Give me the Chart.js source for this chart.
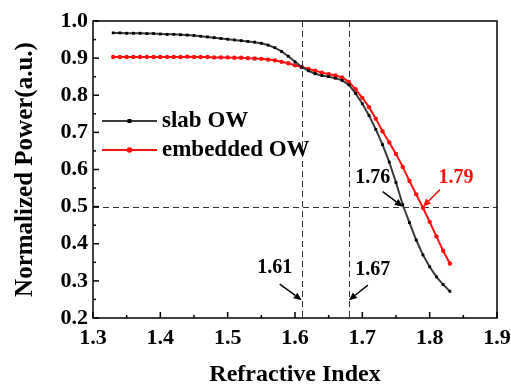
<!DOCTYPE html>
<html>
<head>
<meta charset="utf-8">
<script src="https://cdn.jsdelivr.net/npm/chart.js@4/dist/chart.umd.min.js"></script>
<style>
  html, body { margin: 0; padding: 0; background: #fff; }
  #wrap { width: 511px; height: 387px; }
</style>
</head>
<body>
<div id="wrap"><canvas id="c" width="511" height="387"></canvas></div>
<script>
// ---- data ----
const refractiveIndex = [1.33,1.34,1.35,1.36,1.37,1.38,1.39,1.40,1.41,1.42,1.43,1.44,1.45,1.46,1.47,1.48,1.49,1.50,1.51,1.52,1.53,1.54,1.55,1.56,1.57,1.58,1.59,1.60,1.61,1.62,1.63,1.64,1.65,1.66,1.67,1.68,1.69,1.70,1.71,1.72,1.73,1.74,1.75,1.76,1.77,1.78,1.79,1.80,1.81,1.82,1.83];
const slabOW = [0.968,0.968,0.967,0.967,0.967,0.966,0.966,0.965,0.964,0.964,0.963,0.962,0.961,0.959,0.957,0.955,0.953,0.951,0.949,0.947,0.945,0.943,0.940,0.935,0.928,0.918,0.905,0.890,0.876,0.866,0.858,0.853,0.850,0.846,0.840,0.828,0.805,0.777,0.745,0.708,0.667,0.620,0.565,0.505,0.457,0.410,0.370,0.338,0.311,0.290,0.272];
const embeddedOW = [0.903,0.903,0.903,0.903,0.903,0.903,0.903,0.903,0.903,0.903,0.903,0.904,0.903,0.903,0.903,0.902,0.902,0.902,0.901,0.901,0.900,0.899,0.898,0.896,0.894,0.890,0.886,0.881,0.876,0.871,0.866,0.861,0.857,0.853,0.848,0.836,0.816,0.793,0.768,0.737,0.703,0.673,0.642,0.607,0.569,0.533,0.497,0.459,0.420,0.381,0.347];
const seriesNames = ['slab OW', 'embedded OW'];
const xTickValues = [1.3,1.4,1.5,1.6,1.7,1.8,1.9];
const yTickValues = [0.2,0.3,0.4,0.5,0.6,0.7,0.8,0.9,1.0];
const vLineValues = [1.61, 1.68];
const hLineValues = [0.5];
const annotationTexts = ['1.61', '1.67', '1.76', '1.79'];
const annotationX = [1.61, 1.68, 1.76, 1.79];
const annotationY = [0.248, 0.248, 0.5, 0.5];

const FONT = '"Liberation Serif", "Times New Roman", serif';
const BLACK_LINE = '#3a3a3a';
const RED = '#ff1010';

const slabPts = refractiveIndex.map((x, i) => ({x, y: slabOW[i]}));
const embPts = refractiveIndex.map((x, i) => ({x, y: embeddedOW[i]}));

function arrow(ctx, x1, y1, x2, y2, color) {
  ctx.save();
  ctx.strokeStyle = color; ctx.fillStyle = color; ctx.lineWidth = 1.5; ctx.setLineDash([]);
  const ang = Math.atan2(y2 - y1, x2 - x1);
  const hl = 8, hw = 3.5;
  const bx = x2 - hl * Math.cos(ang), by = y2 - hl * Math.sin(ang);
  ctx.beginPath(); ctx.moveTo(x1, y1); ctx.lineTo(bx, by); ctx.stroke();
  ctx.beginPath();
  ctx.moveTo(x2, y2);
  ctx.lineTo(bx + hw * Math.sin(ang), by - hw * Math.cos(ang));
  ctx.lineTo(bx - hw * Math.sin(ang), by + hw * Math.cos(ang));
  ctx.closePath(); ctx.fill();
  ctx.restore();
}

const decor = {
  id: 'decor',
  beforeDatasetsDraw(chart) {
    const {ctx, chartArea: a, scales: {x, y}} = chart;
    ctx.save();
    ctx.strokeStyle = '#333'; ctx.lineWidth = 1; ctx.setLineDash([6, 4]);
    vLineValues.forEach(v => {
      const px = Math.round(x.getPixelForValue(v)) + 0.5;
      ctx.beginPath(); ctx.moveTo(px, a.top); ctx.lineTo(px, a.bottom); ctx.stroke();
    });
    hLineValues.forEach(v => {
      const py = Math.round(y.getPixelForValue(v)) + 0.5;
      ctx.beginPath(); ctx.moveTo(a.left, py); ctx.lineTo(a.right, py); ctx.stroke();
    });
    ctx.restore();
  },
  afterDatasetsDraw(chart) {
    const {ctx, chartArea: a, scales: {x, y}} = chart;
    ctx.save();
    // box
    ctx.strokeStyle = '#000'; ctx.lineWidth = 1.5; ctx.setLineDash([]);
    ctx.strokeRect(a.left, a.top, a.right - a.left, a.bottom - a.top);
    // inward ticks
    ctx.lineWidth = 1.5;
    for (let i = 0; i < xTickValues.length; i++) {
      const px = x.getPixelForValue(xTickValues[i]);
      ctx.beginPath(); ctx.moveTo(px, a.bottom); ctx.lineTo(px, a.bottom - 6); ctx.stroke();
      if (i < xTickValues.length - 1) {
        const pm = x.getPixelForValue((xTickValues[i] + xTickValues[i + 1]) / 2);
        ctx.beginPath(); ctx.moveTo(pm, a.bottom); ctx.lineTo(pm, a.bottom - 3); ctx.stroke();
      }
    }
    for (let i = 0; i < yTickValues.length; i++) {
      const py = y.getPixelForValue(yTickValues[i]);
      ctx.beginPath(); ctx.moveTo(a.left, py); ctx.lineTo(a.left + 6, py); ctx.stroke();
      if (i < yTickValues.length - 1) {
        const pm = y.getPixelForValue((yTickValues[i] + yTickValues[i + 1]) / 2);
        ctx.beginPath(); ctx.moveTo(a.left, pm); ctx.lineTo(a.left + 3, pm); ctx.stroke();
      }
    }
    // annotations
    const offs = [
      {sx: -22, sy: -16, tx: -27, ty: -32},
      {sx: 19, sy: -15, tx: 24, ty: -30},
      {sx: -20, sy: -15, tx: -30, ty: -29},
      {sx: 17, sy: -17, tx: 33, ty: -29}
    ];
    const colors = ['#000', '#000', '#000', RED];
    ctx.font = 'bold 20px ' + FONT;
    ctx.textAlign = 'center'; ctx.textBaseline = 'middle';
    annotationTexts.forEach((t, i) => {
      const px = x.getPixelForValue(annotationX[i]);
      const py = y.getPixelForValue(annotationY[i]);
      const o = offs[i];
      arrow(ctx, px + o.sx, py + o.sy, px, py, colors[i]);
      ctx.fillStyle = colors[i];
      ctx.fillText(t, px + o.tx, py + o.ty);
    });
    // legend
    const lx0 = a.left + 9, lx1 = a.left + 64;
    const rows = [a.top + 100, a.top + 129];
    const lineCols = [BLACK_LINE, RED];
    const markCols = ['#000', RED];
    ctx.font = 'bold 23px ' + FONT;
    ctx.textAlign = 'left';
    rows.forEach((ry, i) => {
      ctx.strokeStyle = lineCols[i]; ctx.lineWidth = 2;
      ctx.beginPath(); ctx.moveTo(lx0, ry); ctx.lineTo(lx1, ry); ctx.stroke();
      ctx.fillStyle = markCols[i];
      const mx = (lx0 + lx1) / 2;
      if (i === 0) { ctx.fillRect(mx - 2, ry - 2, 4, 4); }
      else { ctx.beginPath(); ctx.arc(mx, ry, 2.8, 0, Math.PI * 2); ctx.fill(); }
      ctx.fillStyle = '#000';
      ctx.fillText(seriesNames[i], lx1 + 5, ry);
    });
    ctx.restore();
  }
};

new Chart(document.getElementById('c'), {
  type: 'line',
  data: {
    datasets: [
      { label: seriesNames[0], data: slabPts, borderColor: BLACK_LINE, borderWidth: 2,
        pointStyle: 'rect', pointRadius: 2, pointBackgroundColor: '#000', pointBorderColor: '#000', pointBorderWidth: 0,
        tension: 0, fill: false },
      { label: seriesNames[1], data: embPts, borderColor: RED, borderWidth: 2,
        pointStyle: 'circle', pointRadius: 2.2, pointBackgroundColor: RED, pointBorderColor: RED, pointBorderWidth: 0,
        tension: 0, fill: false }
    ]
  },
  options: {
    responsive: false,
    animation: false,
    devicePixelRatio: 1,
    layout: { padding: { left: 0, right: 14, top: 21, bottom: 0 } },
    plugins: { legend: { display: false }, tooltip: { enabled: false } },
    scales: {
      x: {
        type: 'linear', min: 1.3, max: 1.9,
        afterBuildTicks: s => { s.ticks = xTickValues.map(v => ({value: v})); },
        afterFit: s => { s.height = 69; s.paddingLeft = 0; s.paddingRight = 0; },
        grid: { display: false, drawTicks: false },
        border: { display: false },
        ticks: { color: '#000', padding: 7, font: { family: FONT, size: 22, weight: 'bold' },
          callback: v => Number(v).toFixed(1), maxRotation: 0, autoSkip: false },
        title: { display: true, text: 'Refractive Index', color: '#000',
          font: { family: FONT, size: 24, weight: 'bold' }, padding: { top: 0, bottom: -2 } }
      },
      y: {
        type: 'linear', min: 0.2, max: 1.0,
        afterBuildTicks: s => { s.ticks = yTickValues.map(v => ({value: v})); },
        afterFit: s => { s.width = 93; s.paddingTop = 0; s.paddingBottom = 0; },
        grid: { display: false, drawTicks: false },
        border: { display: false },
        ticks: { color: '#000', padding: 5, font: { family: FONT, size: 22, weight: 'bold' },
          callback: v => Number(v).toFixed(1), autoSkip: false },
        title: { display: true, text: 'Normalized Power(a.u.)', color: '#000',
          font: { family: FONT, size: 25, weight: 'bold' }, padding: { top: 11, bottom: 0 } }
      }
    }
  },
  plugins: [decor]
});
</script>
</body>
</html>
